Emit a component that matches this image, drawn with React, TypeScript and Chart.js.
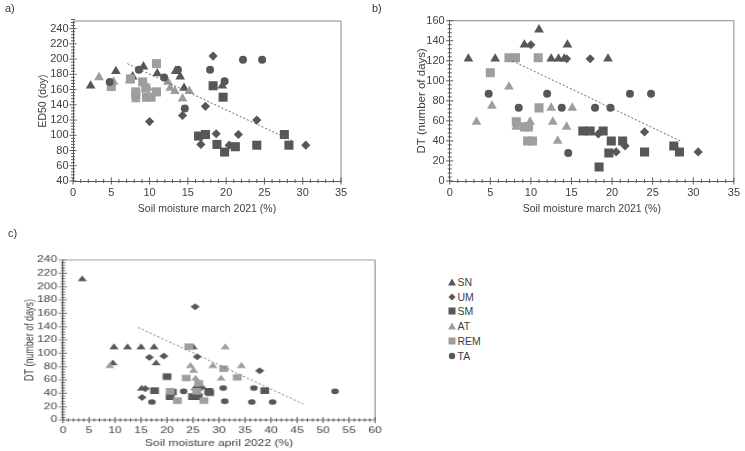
import React, { useEffect, useRef } from "react";
import { Chart, registerables } from "chart.js";
Chart.register(...registerables);

type P = [number, number];

const FONT = "'Liberation Sans', Arial, sans-serif";
const DARK = "#575757";
const LIGHT = "#9e9e9e";
const AXIS = "#595959";
const FRAME = "#8a8a8a";
const TEXT = "#404040";
const TREND = "#6a6a6a";

// ---------- panel a: ED50 vs soil moisture march 2021 ----------
const A_X_TICKS = [0, 5, 10, 15, 20, 25, 30, 35];
const A_Y_TICKS = [40, 60, 80, 100, 120, 140, 160, 180, 200, 220, 240];
const A_SN: P[] = [[2.3, 165], [5.6, 184], [7.8, 177], [9.2, 190], [11, 181], [13.4, 184], [14, 177], [14.5, 162], [19.5, 165]];
const A_UM: P[] = [[10, 118], [14.3, 126], [16.7, 88], [17.3, 138], [18.3, 204], [18.7, 102], [20.4, 87], [21.6, 101], [24, 120], [30.4, 87]];
const A_SM: P[] = [[16.4, 99], [17.3, 101], [18.3, 165], [18.8, 88], [19.6, 150], [19.8, 78], [21.2, 85], [24, 87], [27.6, 101], [28.2, 87]];
const A_AT: P[] = [[3.4, 176], [5.3, 170], [7.4, 172], [8.2, 147], [9.8, 162], [12.4, 170], [12.7, 162], [13.3, 158], [14.3, 148], [15.2, 158]];
const A_REM: P[] = [[5, 164], [7.5, 174], [8.2, 157], [8.2, 152], [9.1, 170], [9.5, 162], [9.6, 150], [10.2, 150], [10.9, 194], [10.9, 157]];
const A_TA: P[] = [[4.8, 170], [8.6, 186], [11.9, 176], [13.7, 186], [14.6, 135], [17.9, 186], [19.8, 171], [22.2, 199], [24.7, 199]];
const A_TREND: P[] = [[7.1, 194], [28.8, 92]];

// ---------- panel b: DT vs soil moisture march 2021 ----------
const B_X_TICKS = [0, 5, 10, 15, 20, 25, 30, 35];
const B_Y_TICKS = [0, 20, 40, 60, 80, 100, 120, 140, 160];
const B_SN: P[] = [[2.3, 122], [5.6, 122], [7.8, 122], [9.2, 136], [11, 151], [12.5, 122], [13.4, 122], [14.1, 122], [14.5, 136], [19.5, 122]];
const B_UM: P[] = [[10, 136], [14.4, 122], [17.3, 122], [18.3, 47], [20.5, 29], [21.6, 35], [24, 49], [30.6, 29]];
const B_SM: P[] = [[16.4, 50], [17.3, 50], [18.4, 14], [18.9, 50], [19.6, 28], [19.9, 40], [21.3, 40], [24, 29], [27.6, 35], [28.3, 29]];
const B_AT: P[] = [[3.3, 59], [5.2, 75], [7.3, 94], [8.2, 54], [9.9, 59], [12.5, 73], [12.7, 59], [13.3, 40], [14.4, 54], [15.1, 73]];
const B_REM: P[] = [[5, 108], [7.3, 123], [8.1, 123], [8.2, 59], [9.2, 54], [9.7, 54], [9.6, 40], [10.2, 40], [10.9, 123], [11, 73]];
const B_TA: P[] = [[4.8, 87], [8.5, 73], [12, 87], [13.8, 73], [14.6, 28], [17.9, 73], [19.8, 73], [22.2, 87], [24.8, 87]];
const B_TREND: P[] = [[7.7, 120], [28.4, 40]];

// ---------- panel c: DT vs soil moisture april 2022 ----------
const C_X_TICKS = [0, 5, 10, 15, 20, 25, 30, 35, 40, 45, 50, 55, 60];
const C_Y_TICKS = [0, 20, 40, 60, 80, 100, 120, 140, 160, 180, 200, 220, 240];
const C_SN: P[] = [[3.7, 211], [9.6, 85], [9.8, 109], [12.4, 109], [15, 109], [15.1, 47], [17.5, 109], [17.9, 85], [25, 109], [25.4, 48]];
const C_UM: P[] = [[15.2, 34], [15.8, 47], [16.6, 94], [19.4, 96], [25.4, 170], [25.8, 95], [26.6, 49], [37.8, 74]];
const C_SM: P[] = [[17.6, 44], [20, 65], [20.6, 35], [21, 42], [24.9, 35], [26, 35], [28, 43], [28.2, 41], [38.8, 44]];
const C_AT: P[] = [[9, 81], [24.5, 81], [25.1, 74], [25.5, 62], [28.8, 81], [30.4, 62], [31.2, 109], [34.3, 81]];
const C_REM: P[] = [[20.6, 43], [22, 29], [23.7, 63], [24.2, 110], [25.7, 43], [26.1, 55], [27.1, 29], [30.9, 77], [33.5, 64]];
const C_TA: P[] = [[17.1, 27], [23.2, 43], [30.8, 48], [31.1, 28], [36.3, 27], [36.7, 48], [40.3, 27], [52.3, 43]];
const C_TREND: P[] = [[14.4, 139], [46.2, 24]];

const SERIES_NAMES = ["SN", "UM", "SM", "AT", "REM", "TA"];
const SERIES_STYLE: Record<string, { shape: string; color: string }> = {
  SN: { shape: "triangle", color: DARK },
  UM: { shape: "rectRot", color: DARK },
  SM: { shape: "rect", color: DARK },
  AT: { shape: "triangle", color: LIGHT },
  REM: { shape: "rect", color: LIGHT },
  TA: { shape: "circle", color: DARK },
};

interface Spec {
  left: number; top: number; dispW: number; dispH: number; w: number; h: number;
  area: { l: number; r: number; t: number; b: number };
  xMax: number; yMin: number; yMax: number; xTicks: number[]; yTicks: number[];
  xMinor: number; yMinor: number;
  xTitle: string; yTitle: string;
  xLabelPad: number; yLabelPad: number; xTitlePad: number; yTitlePad: number;
  tickSize: number; titleSize: number; yTitleSize: number;
  radii: Record<string, number>;
  series: Record<string, P[]>; trend: P[];
}

const RAD_AB = { triangle: 5.6, rect: 6.4, rectRot: 4.6, circle: 4 } as Record<string, number>;
const RAD_C = { triangle: 4.6, rect: 5.4, rectRot: 4, circle: 3.3 } as Record<string, number>;

const SPEC_A: Spec = {
  left: 0, top: 0, dispW: 372, dispH: 222, w: 372, h: 222,
  area: { l: 73, r: 341, t: 21, b: 181 },
  xMax: 35, yMin: 40, yMax: 250, xTicks: A_X_TICKS, yTicks: A_Y_TICKS, xMinor: 1, yMinor: 4,
  xTitle: "Soil moisture march 2021 (%)", yTitle: "ED50 (doy)",
  xLabelPad: 5, yLabelPad: 4.5, xTitlePad: 7, yTitlePad: 36.4, tickSize: 11, titleSize: 10.5, yTitleSize: 10.5,
  radii: RAD_AB,
  series: { SN: A_SN, UM: A_UM, SM: A_SM, AT: A_AT, REM: A_REM, TA: A_TA }, trend: A_TREND,
};

const SPEC_B: Spec = {
  left: 372, top: 0, dispW: 373, dispH: 222, w: 373, h: 222,
  area: { l: 77.7, r: 364.7, t: 20.7, b: 181 },
  xMax: 35, yMin: 0, yMax: 160, xTicks: B_X_TICKS, yTicks: B_Y_TICKS, xMinor: 1, yMinor: 4,
  xTitle: "Soil moisture march 2021 (%)", yTitle: "DT (number of days)",
  xLabelPad: 5, yLabelPad: 5, xTitlePad: 7, yTitlePad: 43, tickSize: 11, titleSize: 10.5, yTitleSize: 11.5,
  radii: RAD_AB,
  series: { SN: B_SN, UM: B_UM, SM: B_SM, AT: B_AT, REM: B_REM, TA: B_TA }, trend: B_TREND,
};

const SPEC_C: Spec = {
  left: 0, top: 222, dispW: 400, dispH: 229, w: 348, h: 269,
  area: { l: 54.8, r: 326.3, t: 44.6, b: 232.6 },
  xMax: 60, yMin: 0, yMax: 240, xTicks: C_X_TICKS, yTicks: C_Y_TICKS, xMinor: 1, yMinor: 4,
  xTitle: "Soil moisture april 2022 (%)", yTitle: "DT (number of days)",
  xLabelPad: 6.3, yLabelPad: 5, xTitlePad: 2.7, yTitlePad: 19.8, tickSize: 10.5, titleSize: 10.5, yTitleSize: 10.5,
  radii: RAD_C,
  series: { SN: C_SN, UM: C_UM, SM: C_SM, AT: C_AT, REM: C_REM, TA: C_TA }, trend: C_TREND,
};

function framePlugin(s: Spec) {
  return {
    id: "frameTicks",
    afterDraw(chart: any) {
      const { ctx, chartArea: ca } = chart;
      const xs = chart.scales.x;
      const ys = chart.scales.y;
      ctx.save();
      ctx.lineWidth = 1;
      ctx.strokeStyle = FRAME;
      ctx.beginPath();
      ctx.moveTo(ca.left, ca.top);
      ctx.lineTo(ca.right, ca.top);
      ctx.lineTo(ca.right, ca.bottom);
      ctx.stroke();
      ctx.strokeStyle = AXIS;
      ctx.beginPath();
      const nx = Math.round(s.xMax / s.xMinor);
      for (let i = 0; i <= nx; i++) {
        const v = i * s.xMinor;
        const px = xs.getPixelForValue(v);
        const len = s.xTicks.includes(v) ? 3.5 : 2;
        ctx.moveTo(px, ca.bottom - len);
        ctx.lineTo(px, ca.bottom + len);
      }
      const ny = Math.round((s.yMax - s.yMin) / s.yMinor);
      for (let i = 0; i <= ny; i++) {
        const v = s.yMin + i * s.yMinor;
        const py = ys.getPixelForValue(v);
        const len = s.yTicks.includes(v) ? 3.5 : 2;
        ctx.moveTo(ca.left - len, py);
        ctx.lineTo(ca.left + len, py);
      }
      ctx.stroke();
      ctx.restore();
    },
  };
}

function Panel({ s }: { s: Spec }) {
  const ref = useRef<HTMLCanvasElement>(null);
  useEffect(() => {
    const font = { family: FONT, size: s.tickSize };
    const tfont = { family: FONT, size: s.titleSize };
    const yfont = { family: FONT, size: s.yTitleSize };
    const datasets: any[] = SERIES_NAMES.map((name, i) => {
      const st = SERIES_STYLE[name];
      return {
        type: "scatter",
        label: name,
        data: s.series[name].map(([x, y]) => ({ x, y })),
        pointStyle: st.shape,
        pointRadius: s.radii[st.shape],
        pointBackgroundColor: st.color,
        pointBorderColor: st.color,
        pointBorderWidth: 0,
        order: 6 - i,
      };
    });
    datasets.push({
      type: "line",
      label: "trend",
      data: s.trend.map(([x, y]) => ({ x, y })),
      borderColor: TREND,
      borderWidth: 1,
      borderDash: [2, 2],
      pointRadius: 0,
      fill: false,
      order: 0,
    });
    const chart = new Chart(ref.current as HTMLCanvasElement, {
      type: "scatter",
      data: { datasets },
      options: {
        animation: false,
        responsive: false,
        maintainAspectRatio: false,
        devicePixelRatio: 1,
        events: [],
        layout: { padding: { left: 0, top: s.area.t, right: s.w - s.area.r, bottom: 0 } },
        plugins: { legend: { display: false }, tooltip: { enabled: false } },
        scales: {
          x: {
            type: "linear",
            position: "bottom",
            min: 0,
            max: s.xMax,
            afterBuildTicks: (sc: any) => { sc.ticks = s.xTicks.map((v) => ({ value: v })); },
            afterFit: (sc: any) => { sc.height = s.h - s.area.b; },
            grid: { display: false, drawTicks: false },
            border: { display: true, color: AXIS, width: 1 },
            ticks: { color: TEXT, font, padding: s.xLabelPad, maxRotation: 0, autoSkip: false },
            title: { display: true, text: s.xTitle, color: TEXT, font: tfont, padding: { top: 0, bottom: s.xTitlePad } },
          },
          y: {
            type: "linear",
            position: "left",
            min: s.yMin,
            max: s.yMax,
            afterBuildTicks: (sc: any) => { sc.ticks = s.yTicks.map((v) => ({ value: v })); },
            afterFit: (sc: any) => { sc.width = s.area.l; },
            grid: { display: false, drawTicks: false },
            border: { display: true, color: AXIS, width: 1 },
            ticks: { color: TEXT, font, padding: s.yLabelPad, autoSkip: false },
            title: { display: true, text: s.yTitle, color: TEXT, font: yfont, padding: { top: s.yTitlePad, bottom: 0 } },
          },
        },
      } as any,
      plugins: [framePlugin(s)],
    });
    return () => chart.destroy();
  }, [s]);
  return (
    <canvas
      ref={ref}
      width={s.w}
      height={s.h}
      style={{ position: "absolute", left: s.left, top: s.top, width: s.dispW + "px", height: s.dispH + "px" }}
    />
  );
}

function Marker({ name }: { name: string }) {
  const st = SERIES_STYLE[name];
  let shape: React.ReactNode = null;
  if (st.shape === "triangle") shape = <polygon points="4,0.5 8,7.5 0,7.5" fill={st.color} />;
  else if (st.shape === "rectRot") shape = <polygon points="4,0.5 7.5,4 4,7.5 0.5,4" fill={st.color} />;
  else if (st.shape === "rect") shape = <rect x="0.5" y="0.5" width="7" height="7" fill={st.color} />;
  else shape = <circle cx="4" cy="4" r="3.2" fill={st.color} />;
  return (
    <svg width="8" height="8" style={{ position: "absolute", left: -4, top: -4 }}>
      {shape}
    </svg>
  );
}

function Legend() {
  return (
    <>
      {SERIES_NAMES.map((name, i) => {
        const cy = 281.7 + i * 14.85;
        return (
          <div key={name}>
            <div style={{ position: "absolute", left: 452, top: cy }}>
              <Marker name={name} />
            </div>
            <div
              style={{
                position: "absolute",
                left: 457.5,
                top: cy - 6,
                height: 12,
                lineHeight: "12px",
                fontFamily: FONT,
                fontSize: 10.5,
                color: TEXT,
                whiteSpace: "nowrap",
              }}
            >
              {name}
            </div>
          </div>
        );
      })}
    </>
  );
}

const PANEL_LABELS: { text: string; x: number; y: number }[] = [
  { text: "a)", x: 5, y: 2 },
  { text: "b)", x: 372, y: 2 },
  { text: "c)", x: 8, y: 227 },
];

export default function App() {
  return (
    <div style={{ position: "fixed", left: 0, top: 0, width: 745, height: 451, background: "#ffffff", overflow: "hidden" }}>
      <Panel s={SPEC_A} />
      <Panel s={SPEC_B} />
      <Panel s={SPEC_C} />
      <Legend />
      {PANEL_LABELS.map((p) => (
        <div
          key={p.text}
          style={{ position: "absolute", left: p.x, top: p.y, fontFamily: FONT, fontSize: 11, color: "#333", lineHeight: "12px" }}
        >
          {p.text}
        </div>
      ))}
    </div>
  );
}
